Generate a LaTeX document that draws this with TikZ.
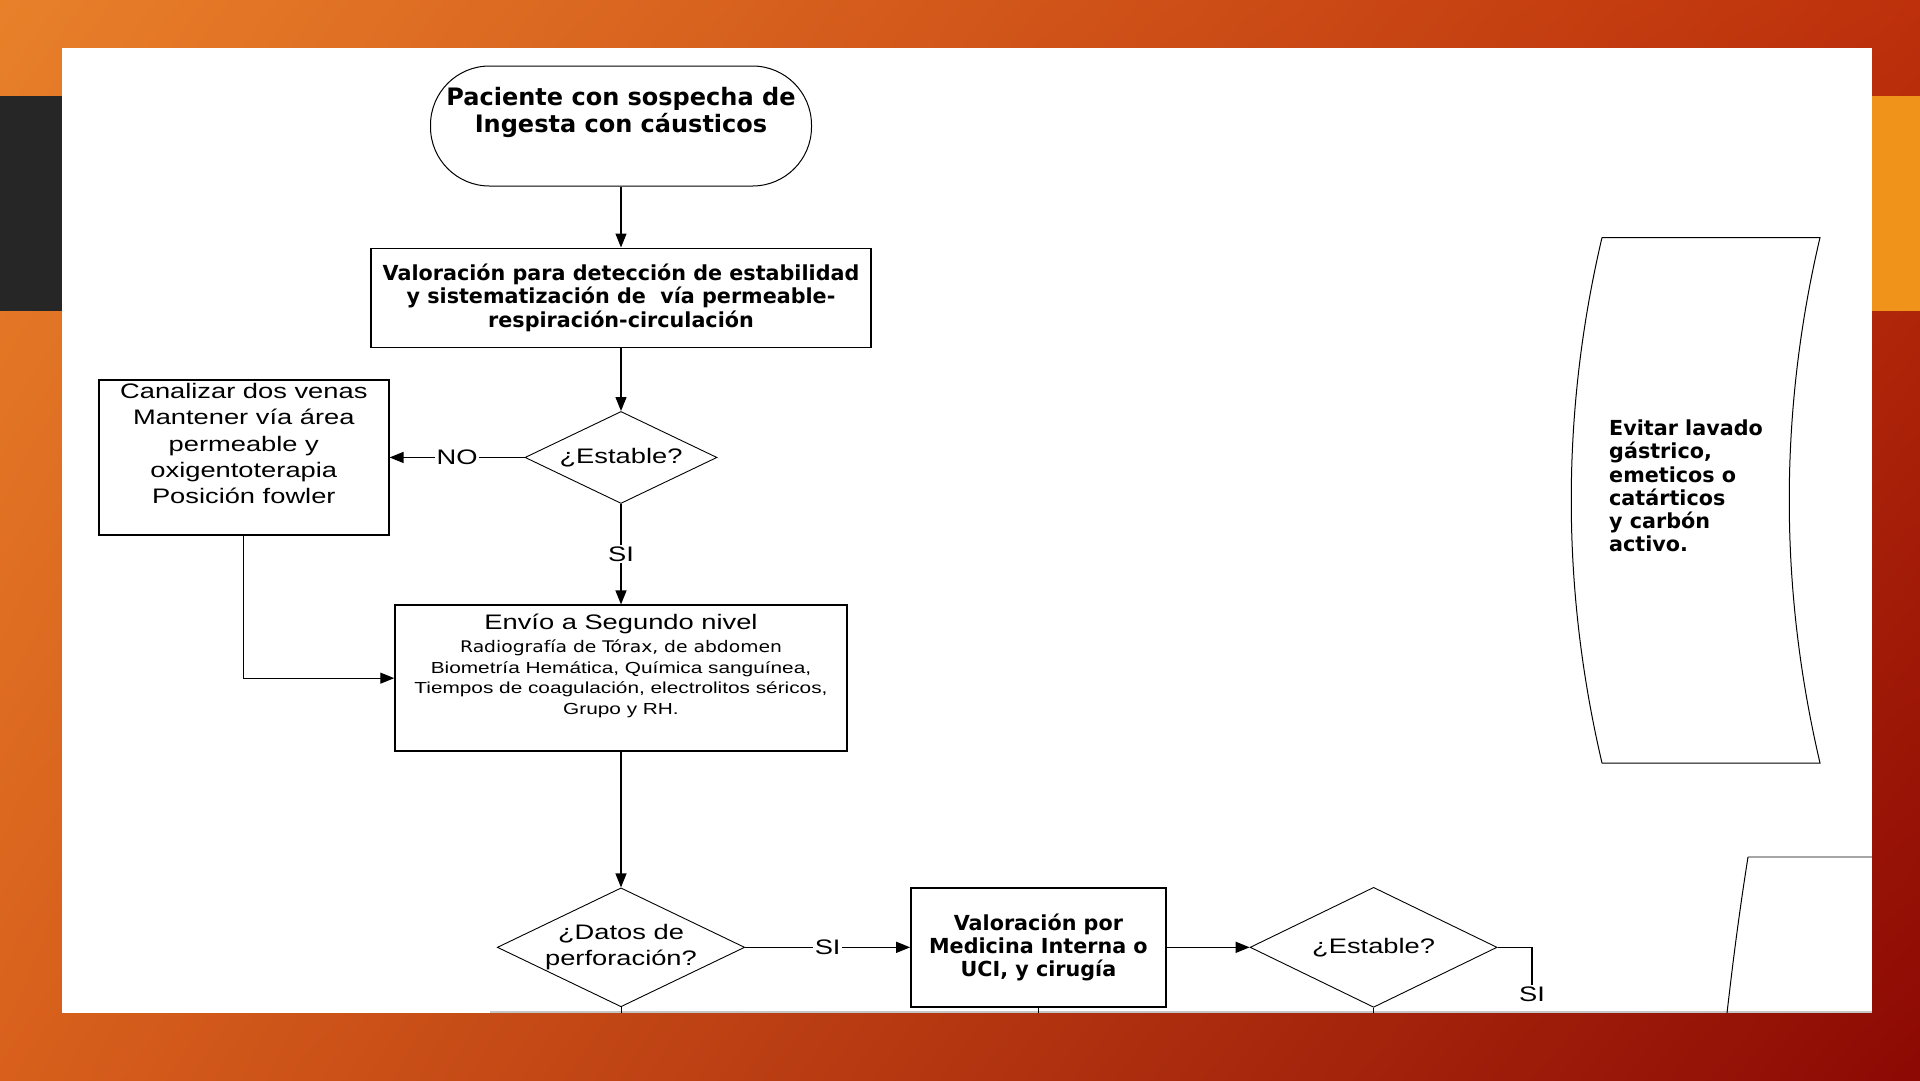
\documentclass[tikz,border=0pt]{standalone}
\usepackage{fontspec}
\newfontfamily\arialw[FakeStretch=1.3]{Liberation Sans}
\newfontfamily\dejavw[FakeStretch=1.17]{DejaVu Sans}
\newfontfamily\dejav{DejaVu Sans}
\usetikzlibrary{positioning,shapes.geometric,arrows.meta,shadings}

\definecolor{slideUL}{HTML}{E8802A}
\definecolor{slideUR}{HTML}{BD300B}
\definecolor{slideLL}{HTML}{D8601C}
\definecolor{slideLR}{HTML}{8C0904}
\definecolor{barDark}{HTML}{262626}
\definecolor{barOrange}{HTML}{F0931A}

\newcommand{\bigbold}{\dejav\bfseries\fontsize{24}{27}\selectfont}
\newcommand{\bodybold}{\dejav\bfseries\fontsize{20.7}{23.3}\selectfont}
\newcommand{\bodyreg}{\arialw\fontsize{21}{26.4}\selectfont}
\newcommand{\smallreg}{\arialw\fontsize{16}{20.5}\selectfont}

\begin{document}
\begin{tikzpicture}[x=1pt,y=-1pt,>={Triangle[length=14pt,width=11pt]},
  terminal/.style={draw,line width=1pt,rounded corners=59pt,minimum width=381pt,
    minimum height=120pt,inner sep=0pt,align=center,font=\bigbold},
  process/.style={draw,line width=1.5pt,inner sep=0pt,align=center},
  decision/.style={draw,diamond,line width=0.9pt,aspect=2.08,inner sep=0pt,align=center,font=\bodyreg},
  answer/.style={fill=white,inner sep=1.5pt,font=\bodyreg},
  flow/.style={->,line width=1.3pt}]

  % slide background
  \useasboundingbox (0,0) rectangle (1920,1080);
  \shade[upper left=slideUL,upper right=slideUR,lower left=slideLL,lower right=slideLR]
    (0,0) rectangle (1920,1080);
  \fill[barDark] (0,96) rectangle (62,311);
  \fill[barOrange] (1872,96) rectangle (1920,311);
  \fill[white] (62,48) rectangle (1872,1013);
  \draw[gray!45,line width=2pt] (490,1012) -- (1872,1012);
  \coordinate (bot) at (0,1013);

  % main column
  \node[terminal,text depth=32pt] (start) at (621,126) {Paciente con sospecha de\\Ingesta con cáusticos};
  \node[process,font=\bodybold,minimum width=500pt,minimum height=99pt] (val) [below=61pt of start]
    {Valoración para detección de estabilidad\\y sistematización de~ vía permeable-\\respiración-circulación};
  \node[decision,minimum width=192pt,minimum height=92pt] (est1) [below=63pt of val] {¿Estable?};
  \node[process,font=\bodyreg,minimum width=290pt,minimum height=155pt,text depth=28pt] (canal) [left=135pt of est1]
    {Canalizar dos venas\\Mantener vía área\\permeable y\\oxigentoterapia\\Posición fowler};
  \node[process,font=\smallreg,minimum width=452pt,minimum height=146pt,text depth=28pt] (envio) [below=100.5pt of est1]
    {{\bodyreg Envío a Segundo nivel}\\[3pt]
     {\dejavw\fontsize{16}{20.5}\selectfont Radiografía de Tórax, de abdomen}\\
     Biometría Hemática, Química sanguínea,\\
     Tiempos de coagulación, electrolitos séricos,\\
     Grupo y RH.};

  % bottom row
  \node[decision,minimum width=246pt,minimum height=118pt] (perf) [below=135.5pt of envio] {¿Datos de\\perforación?};
  \node[process,font=\bodybold,minimum width=255pt,minimum height=119pt] (uci) [right=165pt of perf]
    {Valoración por\\Medicina Interna o\\UCI, y cirugía};
  \node[decision,minimum width=247pt,minimum height=120pt] (est2) [right=83pt of uci] {¿Estable?};
  \node[font=\bodyreg,inner sep=1.5pt] (si3) at (1532,994) {SI};

  % side note
  \draw[line width=1pt] (1602,237.5) -- (1820,237.5)
    .. controls (1779,412) and (1779,588) .. (1820,763) -- (1602,763)
    .. controls (1561,588) and (1561,412) .. (1602,237.5);
  \node[font=\bodybold,align=left,anchor=west,inner sep=0pt] (avoid) at (1609,486)
    {Evitar lavado\\gástrico,\\emeticos o\\catárticos\\y carbón\\activo.};
  \begin{scope}
    \clip (62,48) rectangle (1872,1013);
    \draw[gray!70,line width=1.2pt] (1872,857) -- (1748,857);
    \draw[line width=1pt] (1748,857) .. controls (1738,920) and (1732,970) .. (1727,1013);
  \end{scope}

  % connectors
  \draw[flow] (start) -- (val);
  \draw[flow] (val) -- (est1);
  \draw[flow] (est1) -- node[answer] {NO} (canal);
  \draw[flow] (est1) -- node[answer] {SI} (envio);
  \draw[flow] (canal) |- (envio);
  \draw[flow] (envio) -- (perf);
  \draw[flow] (perf) -- node[answer] {SI} (uci);
  \draw[flow] (uci) -- (est2);
  \draw[line width=1.3pt] (est2) -| (si3);
  \draw[line width=1pt] (perf.south) -- (perf.south |- bot);
  \draw[line width=1pt] (uci.south) -- (uci.south |- bot);
  \draw[line width=1pt] (est2.south) -- (est2.south |- bot);
\end{tikzpicture}
\end{document}
